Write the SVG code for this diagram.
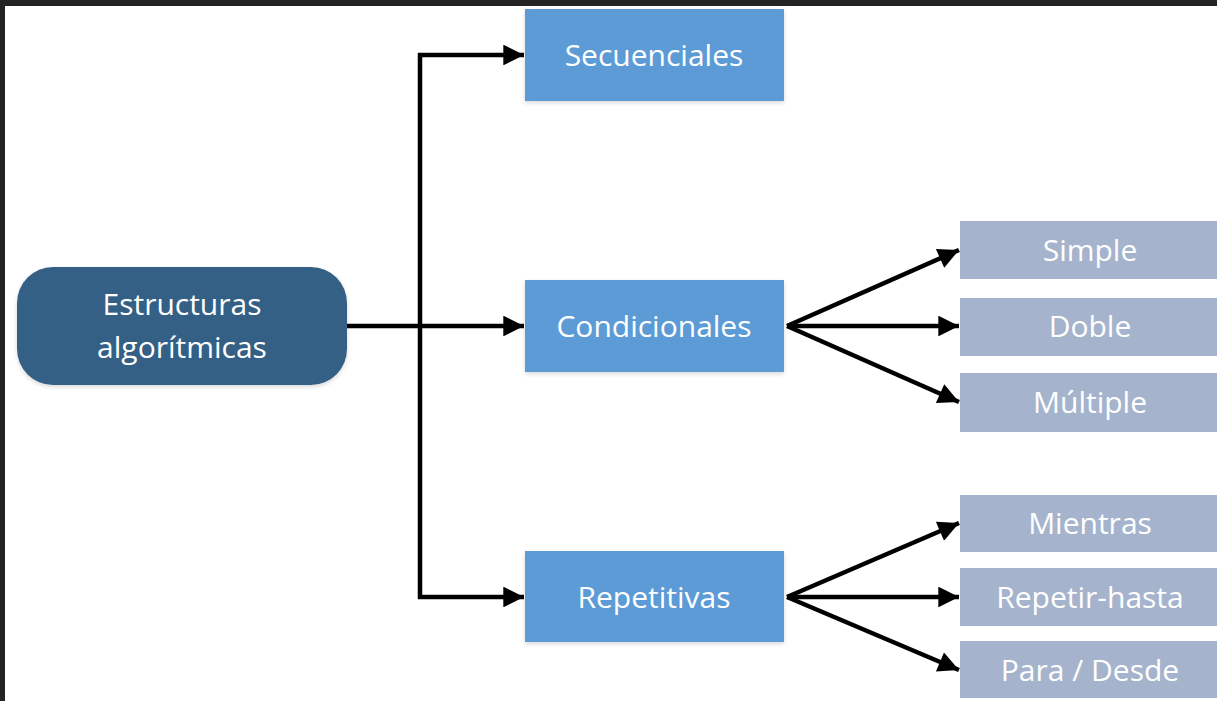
<svg xmlns="http://www.w3.org/2000/svg" width="1217" height="701" viewBox="0 0 1217 701">
<defs>
<style>
.t{font-family:"Open Sans","Liberation Sans",sans-serif;fill:#ffffff;text-anchor:middle;dominant-baseline:central;font-size:30px}
.mid{fill:#5B9BD5}
.leaf{fill:#A5B4CC}
.ln{stroke:#000;stroke-width:4.5;fill:none}
</style>
<marker id="ah" viewBox="0 0 10 10" refX="10" refY="5" markerWidth="5" markerHeight="4.6" markerUnits="strokeWidth" orient="auto">
<path d="M0,0 L10,5 L0,10 z" fill="#000"/>
</marker>
<filter id="sh" x="-5%" y="-5%" width="110%" height="115%">
<feDropShadow dx="0" dy="2" stdDeviation="2" flood-color="#000" flood-opacity="0.15"/>
</filter>
</defs>
<rect width="1217" height="701" fill="#ffffff"/>
<rect x="0" y="0" width="1217" height="6" fill="#242424"/>
<rect x="0" y="0" width="5" height="701" fill="#242424"/>

<g id="connectors">
<path class="ln" d="M347,326 H420"/>
<path class="ln" d="M420,53 V599"/>
<path class="ln" marker-end="url(#ah)" d="M418,55 H524"/>
<path class="ln" marker-end="url(#ah)" d="M420,326 H524"/>
<path class="ln" marker-end="url(#ah)" d="M418,597 H524"/>
<path class="ln" marker-end="url(#ah)" d="M787,326 L959,250"/>
<path class="ln" marker-end="url(#ah)" d="M787,326 H959"/>
<path class="ln" marker-end="url(#ah)" d="M787,326 L959,402"/>
<path class="ln" marker-end="url(#ah)" d="M787,597 L959,523"/>
<path class="ln" marker-end="url(#ah)" d="M787,597 H959"/>
<path class="ln" marker-end="url(#ah)" d="M787,597 L959,670"/>
</g>

<g id="root">
<rect x="17" y="267" width="330" height="118" rx="36" fill="#366185" filter="url(#sh)"/>
<text class="t" x="182" y="303">Estructuras</text>
<text class="t" x="182" y="346">algorítmicas</text>
</g>
<g id="secuenciales">
<rect class="mid" x="525" y="9" width="259" height="92" filter="url(#sh)"/>
<text class="t" x="654" y="54">Secuenciales</text>
</g>
<g id="condicionales">
<rect class="mid" x="525" y="280" width="259" height="92" filter="url(#sh)"/>
<text class="t" x="654" y="325">Condicionales</text>
</g>
<g id="repetitivas">
<rect class="mid" x="525" y="551" width="259" height="91" filter="url(#sh)"/>
<text class="t" x="654" y="596">Repetitivas</text>
</g>
<g id="simple">
<rect class="leaf" x="960" y="221" width="262" height="58"/>
<text class="t" x="1090" y="249">Simple</text>
</g>
<g id="doble">
<rect class="leaf" x="960" y="298" width="262" height="58"/>
<text class="t" x="1090" y="325">Doble</text>
</g>
<g id="multiple">
<rect class="leaf" x="960" y="373" width="262" height="59"/>
<text class="t" x="1090" y="401">Múltiple</text>
</g>
<g id="mientras">
<rect class="leaf" x="960" y="495" width="262" height="57"/>
<text class="t" x="1090" y="522">Mientras</text>
</g>
<g id="repetir-hasta">
<rect class="leaf" x="960" y="568" width="262" height="58"/>
<text class="t" x="1090" y="596">Repetir-hasta</text>
</g>
<g id="para-desde">
<rect class="leaf" x="960" y="641" width="262" height="57"/>
<text class="t" x="1090" y="669">Para / Desde</text>
</g>
</svg>
